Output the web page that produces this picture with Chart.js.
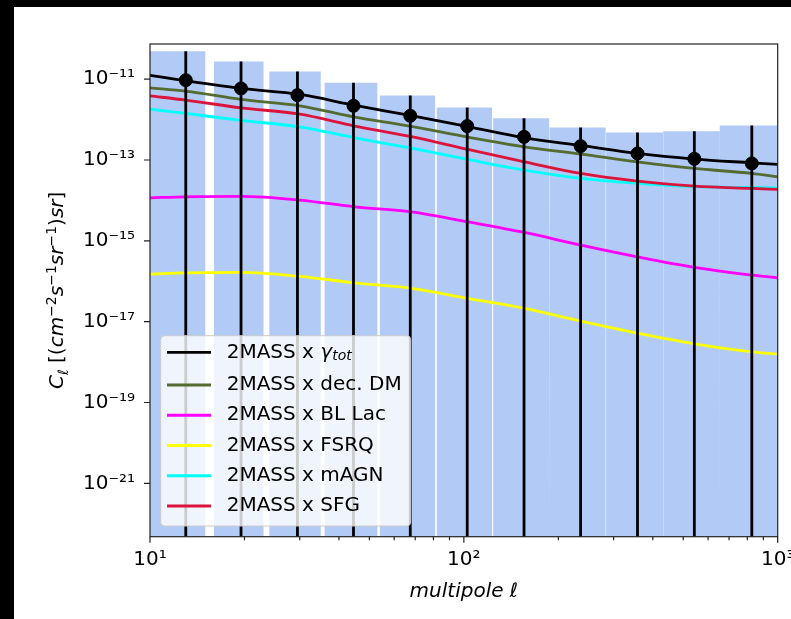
<!DOCTYPE html>
<html>
<head>
<meta charset="utf-8">
<script src="https://cdn.jsdelivr.net/npm/chart.js@4.4.1/dist/chart.umd.min.js"></script>
<style>
  html, body { margin: 0; padding: 0; background: #000; }
  #wrap { position: absolute; left: 14px; top: 7px; width: 777px; height: 612px; background: #fff; }
</style>
</head>
<body>
<div id="wrap"><canvas id="cl" width="777" height="612"></canvas></div>
<script>
// binned cross-correlation data
const binLo = [10, 16, 24, 36, 54, 82, 124, 188, 284, 432, 654];
const binHi = [15, 23, 35, 53, 81, 123, 187, 283, 431, 653, 1000];
const ellData = [13, 19.5, 29.5, 44.5, 67.5, 102.5, 155.5, 235.5, 357.5, 542.5, 827];
const clData = [9.44e-12, 5.89e-12, 4.02e-12, 2.19e-12, 1.24e-12, 6.89e-13, 3.74e-13, 2.20e-13, 1.45e-13, 1.07e-13, 8.22e-14];
const clErrTop = [4.93e-11, 2.74e-11, 1.55e-11, 8.10e-12, 3.95e-12, 2.00e-12, 1.08e-12, 6.38e-13, 4.81e-13, 5.18e-13, 7.16e-13];

// model spectra
const ellModel = [10, 13, 19.5, 30, 45, 68, 103, 156, 236, 357, 543, 826, 1000];
const clTot = [1.24e-11, 9.08e-12, 5.89e-12, 4.19e-12, 2.24e-12, 1.25e-12, 6.68e-13, 3.53e-13, 2.29e-13, 1.45e-13, 1.05e-13, 8.51e-14, 7.76e-14];
const clDecDM = [6.09e-12, 5.05e-12, 3.15e-12, 2.19e-12, 1.15e-12, 6.76e-13, 3.67e-13, 2.12e-13, 1.40e-13, 9.01e-14, 6.18e-14, 4.65e-14, 3.83e-14];
const clBLLac = [1.16e-14, 1.23e-14, 1.26e-14, 1.02e-14, 6.94e-15, 5.22e-15, 2.95e-15, 1.61e-15, 7.83e-16, 4.02e-16, 2.20e-16, 1.42e-16, 1.22e-16];
const clFSRQ = [1.50e-16, 1.61e-16, 1.66e-16, 1.32e-16, 9.11e-17, 6.69e-17, 3.77e-17, 2.13e-17, 1.03e-17, 5.21e-18, 2.84e-18, 1.80e-18, 1.58e-18];
const clMAGN = [1.81e-12, 1.42e-12, 9.52e-13, 6.61e-13, 3.53e-13, 1.96e-13, 1.03e-13, 5.61e-14, 3.50e-14, 2.63e-14, 2.19e-14, 2.09e-14, 2.04e-14];
const clSFG = [3.86e-12, 3.03e-12, 1.95e-12, 1.36e-12, 6.89e-13, 3.78e-13, 1.82e-13, 9.01e-14, 4.65e-14, 3.00e-14, 2.26e-14, 1.98e-14, 1.87e-14];

const yTicks = [1e-21, 1e-19, 1e-17, 1e-15, 1e-13, 1e-11];
const xTicks = [10, 20, 30, 40, 50, 60, 70, 80, 90, 100, 200, 300, 400, 500, 600, 700, 800, 900, 1000];
const yMin = 4.79e-23, yMax = 7.41e-11;

const FONT = '"DejaVu Sans", sans-serif';
const FS = 20;
const LW = 2.8;

const SUP = {'0': '⁰', '1': '¹', '2': '²', '3': '³', '4': '⁴', '5': '⁵', '6': '⁶', '7': '⁷', '8': '⁸', '9': '⁹', '-': '⁻'};
function isDecade(v) {
  const e = Math.log10(v);
  return Math.abs(e - Math.round(e)) < 1e-9;
}
function powLabel(v) {
  const e = Math.round(Math.log10(v));
  return '10' + String(e).split('').map(c => SUP[c]).join('');
}

// draws text pieces with italic / superscript / subscript, returns width
function richText(ctx, parts, x, y, size, draw) {
  let cx = x;
  parts.forEach(p => {
    const small = p.pos === 'sup' || p.pos === 'sub';
    const fs = small ? size * 0.7 : size;
    ctx.font = (p.it ? 'italic ' : '') + fs + 'px ' + FONT;
    const dy = p.pos === 'sup' ? -size * 0.38 : p.pos === 'sub' ? size * 0.22 : 0;
    if (draw) ctx.fillText(p.t, cx, y + dy);
    cx += ctx.measureText(p.t).width;
  });
  return cx - x;
}

const curves = [
  { parts: [{t: '2MASS x '}, {t: 'γ', it: true}, {t: 'tot', it: true, pos: 'sub'}], data: clTot, color: '#000000' },
  { parts: [{t: '2MASS x dec. DM'}], data: clDecDM, color: '#556b2f' },
  { parts: [{t: '2MASS x BL Lac'}], data: clBLLac, color: '#ff00ff' },
  { parts: [{t: '2MASS x FSRQ'}], data: clFSRQ, color: '#ffff00' },
  { parts: [{t: '2MASS x mAGN'}], data: clMAGN, color: '#00ffff' },
  { parts: [{t: '2MASS x SFG'}], data: clSFG, color: '#dc143c' }
];

const yTitle = [
  {t: 'C', it: true}, {t: 'ℓ', it: true, pos: 'sub'}, {t: ' [('},
  {t: 'cm', it: true}, {t: '−2', pos: 'sup'}, {t: 's', it: true}, {t: '−1', pos: 'sup'},
  {t: 'sr', it: true}, {t: '−1', pos: 'sup'}, {t: ')'}, {t: 'sr', it: true}, {t: ']'}
];

// bins as a stepped outline filled down to the axis floor
const barOutline = [];
binLo.forEach((lo, i) => {
  barOutline.push({x: lo, y: yMin}, {x: lo, y: clErrTop[i]}, {x: binHi[i], y: clErrTop[i]}, {x: binHi[i], y: yMin});
});

// error bars as separate vertical segments
const errSegments = [];
ellData.forEach((l, i) => {
  errSegments.push({x: l, y: clErrTop[i]}, {x: l, y: yMin}, {x: l, y: null});
});

const curveSets = curves.map(c => ({
  type: 'line',
  data: ellModel.map((l, i) => ({x: l, y: c.data[i]})),
  borderColor: c.color,
  borderWidth: LW,
  pointRadius: 0,
  fill: false,
  cubicInterpolationMode: 'monotone'
}));

const insetLegend = {
  id: 'insetLegend',
  afterDatasetsDraw(chart) {
    const {ctx, chartArea: a} = chart;
    ctx.save();
    let maxW = 0;
    curves.forEach(c => { maxW = Math.max(maxW, richText(ctx, c.parts, 0, 0, FS, false)); });
    const pad = 10.7, lineOff = 6.3, lineLen = 44, gap = 15.7, rightPad = 9;
    const w = lineOff + lineLen + gap + maxW + rightPad;
    const h = 190.3;
    const left = a.left + pad, top = a.bottom - pad - h;
    ctx.beginPath();
    ctx.roundRect(left, top, w, h, 4);
    ctx.fillStyle = 'rgba(255,255,255,0.8)';
    ctx.fill();
    ctx.strokeStyle = '#cccccc';
    ctx.lineWidth = 1;
    ctx.stroke();
    ctx.textBaseline = 'middle';
    curves.forEach((c, i) => {
      const ry = top + 16.6 + (i === 0 ? 0 : 32.7 + (i - 1) * 30.25);
      ctx.beginPath();
      ctx.moveTo(left + lineOff, ry);
      ctx.lineTo(left + lineOff + lineLen, ry);
      ctx.strokeStyle = c.color;
      ctx.lineWidth = LW;
      ctx.stroke();
      ctx.fillStyle = '#000';
      richText(ctx, c.parts, left + lineOff + lineLen + gap, ry, FS, true);
    });
    ctx.restore();
  }
};

const frameTicks = {
  id: 'frameTicks',
  afterDraw(chart) {
    const {ctx, chartArea: a, scales: {x, y}} = chart;
    ctx.save();
    ctx.strokeStyle = '#222';
    ctx.lineWidth = 1.2;
    ctx.strokeRect(a.left, a.top, a.right - a.left, a.bottom - a.top);
    ctx.beginPath();
    xTicks.forEach(v => {
      const px = x.getPixelForValue(v);
      ctx.moveTo(px, a.bottom);
      ctx.lineTo(px, a.bottom + (isDecade(v) ? 6 : 3.5));
    });
    yTicks.forEach(v => {
      const py = y.getPixelForValue(v);
      ctx.moveTo(a.left, py);
      ctx.lineTo(a.left - 6, py);
    });
    ctx.stroke();
    // rotated y title
    const tw = richText(ctx, yTitle, 0, 0, FS, false);
    ctx.translate(49.3, (a.top + a.bottom) / 2);
    ctx.rotate(-Math.PI / 2);
    ctx.fillStyle = '#000';
    ctx.textBaseline = 'alphabetic';
    richText(ctx, yTitle, -tw / 2, 0, FS, true);
    ctx.restore();
  }
};

new Chart(document.getElementById('cl'), {
  type: 'line',
  data: {
    datasets: [
      { type: 'scatter', data: ellData.map((l, i) => ({x: l, y: clData[i]})), pointRadius: 6.5, pointBackgroundColor: '#000', pointBorderColor: '#000', showLine: false },
      { type: 'line', data: errSegments, borderColor: '#000', borderWidth: LW, pointRadius: 0, spanGaps: false, fill: false },
      ...curveSets.slice().reverse(),
      { type: 'line', data: barOutline, borderWidth: 0, borderColor: 'rgba(0,0,0,0)', pointRadius: 0, backgroundColor: 'rgba(100,149,237,0.5)', fill: 'start' }
    ]
  },
  options: {
    responsive: false,
    animation: false,
    layout: { padding: { left: 0, top: 37, right: 13.3, bottom: 0 } },
    plugins: { legend: { display: false }, tooltip: { enabled: false } },
    scales: {
      x: {
        type: 'logarithmic',
        min: 10,
        max: 1000,
        afterBuildTicks: s => { s.ticks = xTicks.map(v => ({value: v})); },
        afterFit: s => { s.height = 82.3; s.paddingLeft = 0; s.paddingRight = 0; },
        grid: { drawOnChartArea: false, tickLength: 6, tickColor: 'rgba(0,0,0,0)' },
        border: { display: false },
        ticks: {
          autoSkip: false, maxRotation: 0, padding: 5, color: '#000',
          font: { family: FONT, size: FS },
          callback: v => isDecade(v) ? powLabel(v) : ''
        },
        title: {
          display: true, text: 'multipole ℓ', color: '#000',
          font: { family: FONT, size: FS, style: 'italic' },
          padding: { top: 0, bottom: 15 }
        }
      },
      y: {
        type: 'logarithmic',
        min: yMin,
        max: yMax,
        afterBuildTicks: s => { s.ticks = yTicks.map(v => ({value: v})); },
        afterFit: s => { s.width = 136; s.paddingTop = 0; s.paddingBottom = 0; },
        grid: { drawOnChartArea: false, tickLength: 6, tickColor: 'rgba(0,0,0,0)' },
        border: { display: false },
        ticks: {
          autoSkip: false, padding: 9, color: '#000',
          font: { family: FONT, size: FS },
          callback: v => powLabel(v)
        }
      }
    }
  },
  plugins: [insetLegend, frameTicks]
});
</script>
</body>
</html>
